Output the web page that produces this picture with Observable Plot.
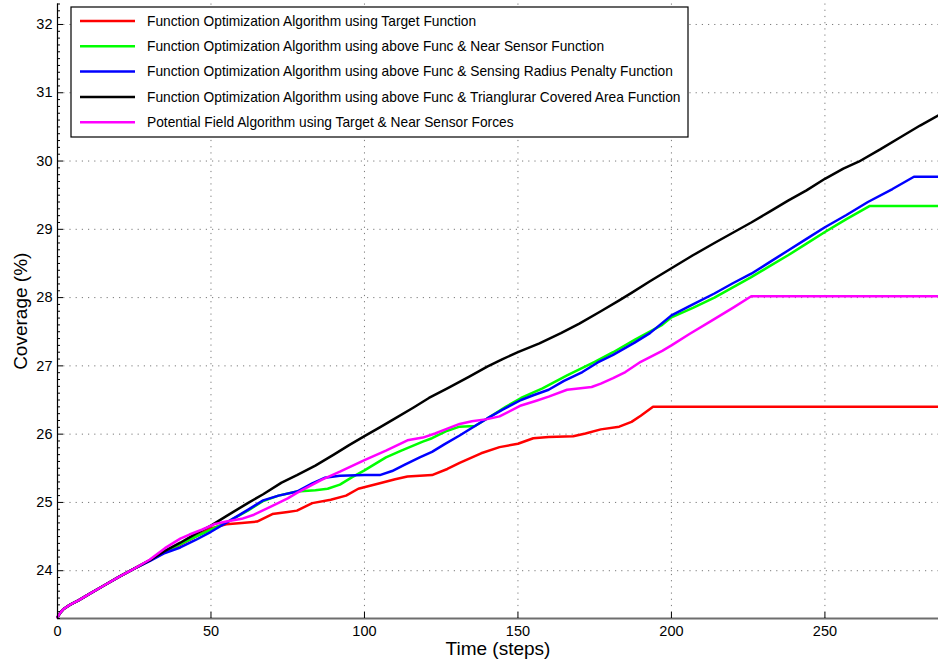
<!DOCTYPE html>
<html>
<head>
<meta charset="utf-8">
<script src="https://cdn.jsdelivr.net/npm/d3@7"></script>
<script src="https://cdn.jsdelivr.net/npm/@observablehq/plot@0.6"></script>
<style>
  html, body { margin: 0; padding: 0; background: #fff; }
  svg { display: block; }
</style>
</head>
<body>
<div id="chart"></div>
<script>
// Coverage (%) versus time step for the five deployment algorithms.
const seriesNames = [
  "Function Optimization Algorithm using Target Function",
  "Function Optimization Algorithm using above Func & Near Sensor Function",
  "Function Optimization Algorithm using above Func & Sensing Radius Penalty Function",
  "Function Optimization Algorithm using above Func & Trianglurar Covered Area Function",
  "Potential Field Algorithm using Target & Near Sensor Forces"
];
const seriesColors = ["#ff0000", "#00ff00", "#0000ff", "#000000", "#ff00ff"];

const redSteps    = [0, 1, 2, 4, 7, 10, 15, 20, 25, 30, 35, 40, 45, 50, 55, 60, 65, 70, 75, 78, 83, 89, 94, 98, 105, 110, 114, 122, 127, 131, 138, 144, 150, 155, 160, 168, 172, 177, 183, 187, 190, 194, 287];
const redCoverage = [23.32, 23.39, 23.44, 23.5, 23.57, 23.65, 23.78, 23.91, 24.03, 24.15, 24.27, 24.38, 24.5, 24.62, 24.68, 24.7, 24.72, 24.83, 24.86, 24.88, 24.99, 25.04, 25.1, 25.2, 25.28, 25.34, 25.38, 25.4, 25.49, 25.58, 25.72, 25.81, 25.86, 25.94, 25.96, 25.97, 26.01, 26.07, 26.11, 26.18, 26.27, 26.4, 26.4];

const greenSteps    = [0, 1, 2, 4, 7, 10, 15, 20, 25, 30, 35, 40, 45, 50, 56, 62, 67, 72, 78, 84, 88, 92, 96, 100, 107, 112, 119, 122, 127, 131, 136, 140, 146, 151, 158, 166, 175, 181, 188, 197, 200, 207, 214, 220, 226, 232, 238, 244, 250, 257, 264.5, 287];
const greenCoverage = [23.32, 23.39, 23.44, 23.5, 23.57, 23.65, 23.78, 23.91, 24.03, 24.15, 24.28, 24.39, 24.5, 24.6, 24.73, 24.88, 25.02, 25.1, 25.16, 25.18, 25.2, 25.26, 25.37, 25.47, 25.66, 25.76, 25.89, 25.94, 26.05, 26.11, 26.12, 26.23, 26.4, 26.53, 26.67, 26.86, 27.06, 27.2, 27.38, 27.6, 27.71, 27.85, 28.0, 28.15, 28.3, 28.46, 28.62, 28.79, 28.96, 29.15, 29.34, 29.34];

const blueSteps    = [0, 1, 2, 4, 7, 10, 15, 20, 25, 30, 35, 40, 45, 50, 56, 62, 67, 72, 78, 83, 87, 92, 100, 105, 109, 113, 118, 122, 126, 131, 136, 140, 145, 151, 155, 160, 165, 171, 176, 181, 188, 193, 200, 207, 214, 220, 226, 232, 238, 244, 250, 257, 264, 272, 279, 287];
const blueCoverage = [23.32, 23.39, 23.44, 23.5, 23.57, 23.65, 23.78, 23.91, 24.03, 24.14, 24.26, 24.34, 24.45, 24.57, 24.73, 24.89, 25.03, 25.1, 25.16, 25.28, 25.36, 25.39, 25.4, 25.4, 25.46, 25.55, 25.66, 25.74, 25.85, 25.98, 26.12, 26.23, 26.36, 26.5, 26.57, 26.65, 26.78, 26.91, 27.05, 27.16, 27.34, 27.48, 27.74, 27.9, 28.06, 28.21, 28.35, 28.52, 28.69, 28.86, 29.03, 29.21, 29.4, 29.59, 29.77, 29.77];

const blackSteps    = [0, 1, 2, 4, 7, 10, 15, 20, 25, 30, 35, 40, 45, 50, 55, 62, 67, 73, 78, 84, 90, 95, 100, 105, 110, 116, 121, 127, 134, 140, 145, 150, 157, 164, 170, 177, 183, 187, 193, 200, 207, 214, 220, 226, 232, 238, 244, 250, 256, 261, 268, 275, 281, 287];
const blackCoverage = [23.32, 23.39, 23.44, 23.5, 23.57, 23.65, 23.78, 23.91, 24.03, 24.15, 24.29, 24.41, 24.54, 24.66, 24.8, 24.99, 25.12, 25.29, 25.4, 25.54, 25.7, 25.84, 25.97, 26.1, 26.23, 26.39, 26.53, 26.67, 26.84, 26.99, 27.1, 27.2, 27.33, 27.48, 27.62, 27.8, 27.96, 28.07, 28.24, 28.43, 28.62, 28.8, 28.95, 29.1, 29.26, 29.42, 29.57, 29.74, 29.89, 29.99, 30.17, 30.36, 30.52, 30.67];

const magentaSteps    = [0, 1, 2, 4, 7, 10, 15, 20, 25, 30, 35, 40, 43, 47, 51, 55, 60, 64, 70, 75, 78, 86, 92, 100, 107, 114, 119, 123, 127, 131, 135, 140, 144, 151, 156, 160, 166, 174, 177, 181, 185, 190, 197, 200, 206, 213, 220, 226, 287];
const magentaCoverage = [23.32, 23.39, 23.44, 23.5, 23.57, 23.65, 23.78, 23.91, 24.03, 24.16, 24.33, 24.47, 24.53, 24.6, 24.68, 24.72, 24.76, 24.82, 24.95, 25.06, 25.14, 25.33, 25.45, 25.62, 25.76, 25.91, 25.95, 26.01, 26.08, 26.15, 26.19, 26.22, 26.26, 26.42, 26.49, 26.55, 26.65, 26.69, 26.74, 26.82, 26.91, 27.06, 27.22, 27.3, 27.47, 27.66, 27.85, 28.02, 28.02];

const xTicks = [0, 50, 100, 150, 200, 250];
const yTicks = [24, 25, 26, 27, 28, 29, 30, 31, 32];
const xMax = 287;
const yMin = 23.3, yMax = 32.3;

const stepsBySeries = [redSteps, greenSteps, blueSteps, blackSteps, magentaSteps];
const coverageBySeries = [redCoverage, greenCoverage, blueCoverage, blackCoverage, magentaCoverage];

// Long-format table: one row per (series, step)
const rows = seriesNames.flatMap((name, i) =>
  stepsBySeries[i].map((s, j) => ({series: name, step: s, coverage: coverageBySeries[i][j]}))
);

// Minor y ticks every 0.1
const yMinorTicks = d3.range(Math.ceil(yMin * 10), Math.floor(yMax * 10) + 1)
  .map(d => d / 10)
  .filter(d => Math.abs(d - Math.round(d)) > 1e-9);

const gridStyle = {stroke: "#7a7a7a", strokeOpacity: 1, strokeWidth: 1, strokeDasharray: "1.2,5"};

const chart = Plot.plot({
  width: 938,
  height: 662,
  marginLeft: 57,
  marginRight: 0,
  marginTop: 3.5,
  marginBottom: 44,
  x: {domain: [0, xMax]},
  y: {domain: [yMin, yMax]},
  color: {domain: seriesNames, range: seriesColors},
  style: {fontFamily: "'Liberation Sans', Arial, Helvetica, sans-serif", background: "#fff", color: "#000"},
  marks: [
    Plot.gridX(xTicks.filter(d => d > 0), gridStyle),
    Plot.gridY(yTicks, gridStyle),
    Plot.line(rows, {x: "step", y: "coverage", z: "series", stroke: "series", strokeWidth: 2.5, strokeLinejoin: "round"}),
    Plot.ruleX([0], {stroke: "#000", strokeWidth: 1.2}),
    Plot.ruleY([yMin], {stroke: "#6e6e6e", strokeWidth: 2}),
    Plot.axisY(yTicks, {tickSize: -6, tickPadding: 11, fontSize: 14.5, tickFormat: d => String(d), label: null}),
    Plot.axisY(yMinorTicks, {tickSize: -3, text: null, label: null}),
    Plot.axisX(xTicks, {tickSize: -6, tickPadding: 13, fontSize: 14.5, tickFormat: d => String(d), label: null}),
    Plot.text(["Coverage (%)"], {text: d => d, frameAnchor: "left", dx: -37, rotate: -90, fontSize: 19, textAnchor: "middle", lineAnchor: "middle"}),
    Plot.text(["Time (steps)"], {text: d => d, frameAnchor: "bottom", dy: 30, fontSize: 19, textAnchor: "middle", lineAnchor: "middle"})
  ]
});

// Legend box in the upper-left corner of the plot area
const legend = {left: 71, top: 7, width: 617, height: 130, rowStart: 21, rowStep: 25.3, lineX1: 80, lineX2: 135, textX: 147};
const g = d3.select(chart).append("g").attr("class", "legend");
g.append("rect")
  .attr("x", legend.left).attr("y", legend.top)
  .attr("width", legend.width).attr("height", legend.height)
  .attr("fill", "#fff").attr("stroke", "#000").attr("stroke-width", 1.2);
seriesNames.forEach((name, i) => {
  const yy = legend.rowStart + i * legend.rowStep;
  g.append("line")
    .attr("x1", legend.lineX1).attr("x2", legend.lineX2)
    .attr("y1", yy).attr("y2", yy)
    .attr("stroke", seriesColors[i]).attr("stroke-width", 2.5);
  g.append("text")
    .attr("x", legend.textX).attr("y", yy)
    .attr("dy", "0.35em")
    .attr("text-anchor", "start")
    .attr("font-size", 13.75)
    .attr("fill", "#000")
    .text(name);
});

document.getElementById("chart").append(chart);
</script>
</body>
</html>
